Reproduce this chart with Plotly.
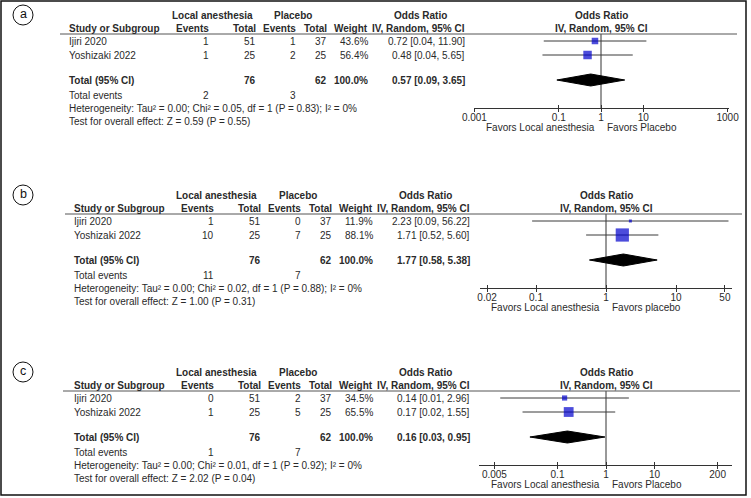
import math
import plotly.graph_objects as go

W, H = 751, 498
FONT = "Liberation Sans, Arial, sans-serif"
TXT = "#2a2a2a"
FS = 10

# ---------------- data ----------------
studies = ["Ijiri 2020", "Yoshizaki 2022"]
panel_letters = ["a", "b", "c"]
la_total = [51, 25]
pl_total = [37, 25]
sum_la_total = 76
sum_pl_total = 62

# panel a
a_la_events = [1, 1]
a_pl_events = [1, 2]
a_weight = [43.6, 56.4]
a_or = [0.72, 0.48]
a_lo = [0.044, 0.041]
a_hi = [11.90, 5.65]
a_ci_text = ["0.72 [0.04, 11.90]", "0.48 [0.04, 5.65]"]
a_pooled = [0.57, 0.09, 3.65]
a_pooled_text = "0.57 [0.09, 3.65]"
a_total_events = [2, 3]
a_het = "Heterogeneity: Tau\u00b2 = 0.00; Chi\u00b2 = 0.05, df = 1 (P = 0.83); I\u00b2 = 0%"
a_test = "Test for overall effect: Z = 0.59 (P = 0.55)"
a_ticks = [0.001, 0.1, 1, 10, 1000]
a_tick_labels = ["0.001", "0.1", "1", "10", "1000"]
a_favors = ["Favors Local anesthesia", "Favors Placebo"]

# panel b
b_la_events = [1, 10]
b_pl_events = [0, 7]
b_weight = [11.9, 88.1]
b_or = [2.23, 1.71]
b_lo = [0.088, 0.52]
b_hi = [56.22, 5.60]
b_ci_text = ["2.23 [0.09, 56.22]", "1.71 [0.52, 5.60]"]
b_pooled = [1.77, 0.58, 5.38]
b_pooled_text = "1.77 [0.58, 5.38]"
b_total_events = [11, 7]
b_het = "Heterogeneity: Tau\u00b2 = 0.00; Chi\u00b2 = 0.02, df = 1 (P = 0.88); I\u00b2 = 0%"
b_test = "Test for overall effect: Z = 1.00 (P = 0.31)"
b_ticks = [0.02, 0.1, 1, 10, 50]
b_tick_labels = ["0.02", "0.1", "1", "10", "50"]
b_favors = ["Favors Local anesthesia", "Favors placebo"]

# panel c
c_la_events = [0, 1]
c_pl_events = [2, 5]
c_weight = [34.5, 65.5]
c_or = [0.14, 0.17]
c_lo = [0.0066, 0.019]
c_hi = [2.96, 1.55]
c_ci_text = ["0.14 [0.01, 2.96]", "0.17 [0.02, 1.55]"]
c_pooled = [0.16, 0.027, 0.95]
c_pooled_text = "0.16 [0.03, 0.95]"
c_total_events = [1, 7]
c_het = "Heterogeneity: Tau\u00b2 = 0.00; Chi\u00b2 = 0.01, df = 1 (P = 0.92); I\u00b2 = 0%"
c_test = "Test for overall effect: Z = 2.02 (P = 0.04)"
c_ticks = [0.005, 0.1, 1, 10, 200]
c_tick_labels = ["0.005", "0.1", "1", "10", "200"]
c_favors = ["Favors Local anesthesia", "Favors Placebo"]

panels = [
    dict(la_ev=a_la_events, pl_ev=a_pl_events, w=a_weight, est=a_or, lo=a_lo, hi=a_hi,
         ci=a_ci_text, pooled=a_pooled, pooled_text=a_pooled_text, tev=a_total_events,
         het=a_het, test=a_test, ticks=a_ticks, tlab=a_tick_labels, fav=a_favors),
    dict(la_ev=b_la_events, pl_ev=b_pl_events, w=b_weight, est=b_or, lo=b_lo, hi=b_hi,
         ci=b_ci_text, pooled=b_pooled, pooled_text=b_pooled_text, tev=b_total_events,
         het=b_het, test=b_test, ticks=b_ticks, tlab=b_tick_labels, fav=b_favors),
    dict(la_ev=c_la_events, pl_ev=c_pl_events, w=c_weight, est=c_or, lo=c_lo, hi=c_hi,
         ci=c_ci_text, pooled=c_pooled, pooled_text=c_pooled_text, tev=c_total_events,
         het=c_het, test=c_test, ticks=c_ticks, tlab=c_tick_labels, fav=c_favors),
]

# ---------------- layout geometry (pixels) ----------------
geo = [
    dict(top=15, dx=0, dom=(473.5, 728.5), one=601, dec=42.2, hl=(60, 737)),
    dict(top=195, dx=5, dom=(480, 732), one=606, dec=70.0, hl=(65, 742)),
    dict(top=372, dx=5, dom=(479, 732), one=606, dec=48.5, hl=(63, 740)),
]
COL = dict(study=68, la_ev=210, la_tot=257, pl_ev=297, pl_tot=328, w=369, orr=466,
           la_hdr=212, pl_hdr=293, or_hdr=420)
OFF = dict(h1=0, h2=13, hline=19, r1=26, rstep=14, total=65, tev=80, het=93, test=106,
           axis=93, fav=112)


def px(x):
    return x / W


def py(y):
    return 1 - y / H


fig = go.Figure()
annotations = []
shapes = []
layout_axes = {}


def ann(x, y, text, anchor="left", bold=False, size=FS, xref="paper", xshift=0):
    annotations.append(dict(
        x=x, y=y, xref=xref, yref="y", text=("<b>%s</b>" % text) if bold else text,
        showarrow=False, xanchor=anchor, yanchor="middle", borderpad=0, xshift=xshift,
        font=dict(family=FONT, size=size, color=TXT)))


for i, (p, g) in enumerate(zip(panels, geo)):
    top, dx = g["top"], g["dx"]
    c = {k: v + dx for k, v in COL.items()}
    xa = "x" if i == 0 else "x%d" % (i + 1)
    xa_top = "x%d" % (i + 4)
    rows = [top + OFF["r1"] + OFF["rstep"] * k for k in range(len(studies))]
    y_total = top + OFF["total"]
    y_axis = top + OFF["axis"]
    y_hline = top + OFF["hline"]

    # header text
    h1, h2 = top + OFF["h1"], top + OFF["h2"]
    ann(px(c["la_hdr"]), h1, "Local anesthesia", "center", True)
    ann(px(c["pl_hdr"]), h1, "Placebo", "center", True)
    ann(px(c["or_hdr"]), h1, "Odds Ratio", "center", True)
    ann(px(c["study"]), h2, "Study or Subgroup", "left", True)
    ann(px(c["la_ev"]), h2, "Events", "right", True)
    ann(px(c["la_tot"]), h2, "Total", "right", True)
    ann(px(c["pl_ev"]), h2, "Events", "right", True)
    ann(px(c["pl_tot"]), h2, "Total", "right", True)
    ann(px(c["w"]), h2, "Weight", "right", True)
    ann(px(c["orr"]), h2, "IV, Random, 95% CI", "right", True)
    ann(0, h1, "Odds Ratio", "center", True, xref=xa)
    ann(0, h2, "IV, Random, 95% CI", "center", True, xref=xa)

    # study rows
    for k, s in enumerate(studies):
        y = rows[k]
        ann(px(c["study"]), y, s, "left")
        ann(px(c["la_ev"]), y, str(p["la_ev"][k]), "right")
        ann(px(c["la_tot"]), y, str(la_total[k]), "right")
        ann(px(c["pl_ev"]), y, str(p["pl_ev"][k]), "right")
        ann(px(c["pl_tot"]), y, str(pl_total[k]), "right")
        ann(px(c["w"]), y, "%.1f%%" % p["w"][k], "right")
        ann(px(c["orr"]), y, p["ci"][k], "right")

    # totals
    ann(px(c["study"]), y_total, "Total (95% CI)", "left", True)
    ann(px(c["la_tot"]), y_total, str(sum_la_total), "right", True)
    ann(px(c["pl_tot"]), y_total, str(sum_pl_total), "right", True)
    ann(px(c["w"]), y_total, "100.0%", "right", True)
    ann(px(c["orr"]), y_total, p["pooled_text"], "right", True)
    ann(px(c["study"]), top + OFF["tev"], "Total events", "left")
    ann(px(c["la_ev"]), top + OFF["tev"], str(p["tev"][0]), "right")
    ann(px(c["pl_ev"]), top + OFF["tev"], str(p["tev"][1]), "right")
    ann(px(c["study"]), top + OFF["het"], p["het"], "left")
    ann(px(c["study"]), top + OFF["test"], p["test"], "left")

    # favors labels
    ann(0, top + OFF["fav"], p["fav"][0], "right", xref=xa, xshift=-5)
    ann(0, top + OFF["fav"], p["fav"][1], "left", xref=xa, xshift=5)

    # header rule
    shapes.append(dict(type="line", xref="paper", yref="y", x0=px(g["hl"][0]), x1=px(g["hl"][1]),
                       y0=y_hline, y1=y_hline, line=dict(color="#555", width=1)))

    # panel letter circle
    shapes.append(dict(type="circle", xref="paper", yref="y", x0=px(13), x1=px(33),
                       y0=top - 10, y1=top + 10, line=dict(color="#111", width=1)))
    annotations.append(dict(x=px(23), y=top - 1, xref="paper", yref="y", text=panel_letters[i],
                            showarrow=False, xanchor="center", yanchor="middle",
                            font=dict(family=FONT, size=12.5, color="#111")))

    # line of no effect
    fig.add_trace(go.Scatter(x=[1, 1], y=[y_hline, y_axis], mode="lines", xaxis=xa, yaxis="y",
                             line=dict(color="#333", width=1), hoverinfo="skip"))
    # CIs and boxes
    for k in range(len(studies)):
        fig.add_trace(go.Scatter(x=[p["lo"][k], p["hi"][k]], y=[rows[k], rows[k]], mode="lines",
                                 xaxis=xa, yaxis="y", line=dict(color="#3a3a3a", width=1),
                                 hoverinfo="skip"))
    fig.add_trace(go.Scatter(x=p["est"], y=rows, mode="markers", xaxis=xa, yaxis="y",
                             marker=dict(symbol="square", color="#0000CC",
                                         size=[max(3, 0.15 * w) for w in p["w"]],
                                         line=dict(width=0)),
                             hoverinfo="skip"))
    # pooled diamond
    est, lo, hi = p["pooled"]
    fig.add_trace(go.Scatter(x=[lo, est, hi, est, lo], y=[y_total, y_total - 6, y_total, y_total + 6, y_total],
                             mode="lines", fill="toself", fillcolor="#000", xaxis=xa, yaxis="y",
                             line=dict(color="#000", width=1), hoverinfo="skip"))
    # dummy trace for the upper tick axis
    fig.add_trace(go.Scatter(x=p["ticks"], y=[y_axis] * len(p["ticks"]), mode="markers",
                             xaxis=xa_top, yaxis="y", marker=dict(opacity=0), hoverinfo="skip"))

    rng = [(g["dom"][0] - g["one"]) / g["dec"], (g["dom"][1] - g["one"]) / g["dec"]]
    axname = "xaxis" if i == 0 else "xaxis%d" % (i + 1)
    layout_axes[axname] = dict(
        type="log", domain=[px(g["dom"][0]), px(g["dom"][1])], range=rng,
        anchor="free", position=py(y_axis), showline=True, linecolor="#333", linewidth=1,
        ticks="outside", ticklen=3, tickcolor="#333", tickwidth=1,
        tickvals=p["ticks"], ticktext=p["tlab"], ticklabelstandoff=-3,
        tickfont=dict(family=FONT, size=FS, color=TXT), showgrid=False, zeroline=False,
        fixedrange=True, automargin=False)
    layout_axes["xaxis%d" % (i + 4)] = dict(
        type="log", overlaying=xa, range=rng, anchor="free", position=py(y_axis),
        showline=False, ticks="inside", ticklen=3, tickcolor="#333", tickwidth=1,
        tickvals=p["ticks"], showticklabels=False, showgrid=False, zeroline=False,
        fixedrange=True, automargin=False)

# outer frame
shapes.append(dict(type="rect", xref="paper", yref="paper", x0=px(1), x1=px(746), y0=py(495), y1=py(1),
                   line=dict(color="#111", width=1.5)))

fig.update_layout(
    width=W, height=H, margin=dict(l=0, r=0, t=0, b=0, pad=0, autoexpand=False),
    paper_bgcolor="white", plot_bgcolor="rgba(0,0,0,0)", showlegend=False,
    yaxis=dict(range=[H, 0], domain=[0, 1], visible=False, fixedrange=True, automargin=False),
    annotations=annotations, shapes=shapes, **layout_axes)

fig.write_html("out.html", config={"displayModeBar": False},
               post_script="document.body.style.margin='0px';document.body.style.overflow='hidden';")
